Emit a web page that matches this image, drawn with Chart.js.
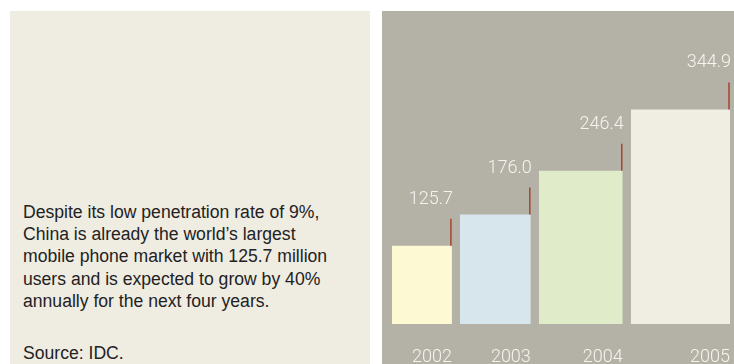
<!DOCTYPE html>
<html>
<head>
<meta charset="utf-8">
<script src="https://cdn.jsdelivr.net/npm/chart.js@4"></script>
<style>
  body { margin: 0; background: #fff; width: 734px; height: 364px; position: relative; overflow: hidden; }
  #texto { position: absolute; left: 10px; top: 11px; width: 360px; height: 353px; background: #efece2; }
  #texto p { position: absolute; left: 13px; margin: 0; font-family: "Liberation Sans", Arial, sans-serif; font-size: 17.6px; line-height: 22.2px; color: #222; }
  #grafica { position: absolute; left: 382px; top: 11px; width: 352px; height: 353px; background: #b4b1a7; }
</style>
</head>
<body>
<div id="texto">
  <p style="top:190px">Despite its low penetration rate of 9%,<br>China is already the world’s largest<br>mobile phone market with 125.7 million<br>users and is expected to grow by 40%<br>annually for the next four years.</p>
  <p style="top:331px">Source: IDC.</p>
</div>
<div id="grafica"><canvas id="myChart" width="352" height="353"></canvas></div>
<script>
// usuarios de telefonia movil en China (millones)
var years = ["2002", "2003", "2004", "2005"];
var users = [125.7, 176.0, 246.4, 344.9];
var barColors = ["#fdf9d3", "#d7e5ec", "#e0ebc9", "#f0ede3"];

var GAP = 1.5;       // espacio entre barras, en unidades del eje x
var TICK = 27;       // largo de la rayita roja (px)

// el ancho de cada barra es la raiz del valor
var x0 = [], x1 = [];
var pos = 0;
for (var i = 0; i < users.length; i++) {
    x0.push(pos);
    pos = pos + Math.sqrt(users[i]);
    x1.push(pos);
    pos = pos + GAP;
}
var xMax = x1[x1.length - 1];

var datasets = [];
for (var i = 0; i < users.length; i++) {
    datasets.push({
        label: years[i],
        data: [
            { x: x0[i], y: 0 },
            { x: x0[i], y: users[i] },
            { x: x1[i], y: users[i] },
            { x: x1[i], y: 0 }
        ],
        showLine: true,
        fill: "origin",
        backgroundColor: barColors[i],
        borderColor: "rgba(0,0,0,0)",
        borderWidth: 0,
        pointRadius: 0,
        tension: 0
    });
}

// rayitas rojas y textos de valores / años
var etiquetas = {
    id: "etiquetas",
    afterDatasetsDraw: function (chart) {
        var ctx = chart.ctx;
        var xs = chart.scales.x, ys = chart.scales.y;
        ctx.save();
        for (var i = 0; i < users.length; i++) {
            var right = xs.getPixelForValue(x1[i]);
            var top = ys.getPixelForValue(users[i]);
            ctx.strokeStyle = "#a4462c";
            ctx.lineWidth = 1.5;
            ctx.beginPath();
            ctx.moveTo(right - 1, top);
            ctx.lineTo(right - 1, top - TICK);
            ctx.stroke();

            ctx.fillStyle = "#f6f4ee";
            ctx.font = "300 18px Roboto";
            ctx.textAlign = "right";
            ctx.textBaseline = "alphabetic";
            ctx.fillText(users[i].toFixed(1), right + 1, top - TICK - 15);
            ctx.fillText(years[i], right, chart.height - 2);
        }
        ctx.restore();
    }
};

new Chart("myChart", {
    type: "scatter",
    data: { datasets: datasets },
    options: {
        responsive: false,
        animation: false,
        events: [],
        layout: { padding: { left: 10, right: 4, top: 2, bottom: 40 } },
        plugins: { legend: { display: false }, tooltip: { enabled: false } },
        scales: {
            x: { type: "linear", min: 0, max: xMax, display: false },
            y: { min: 0, max: 500, display: false }
        }
    },
    plugins: [etiquetas]
});
</script>
</body>
</html>
